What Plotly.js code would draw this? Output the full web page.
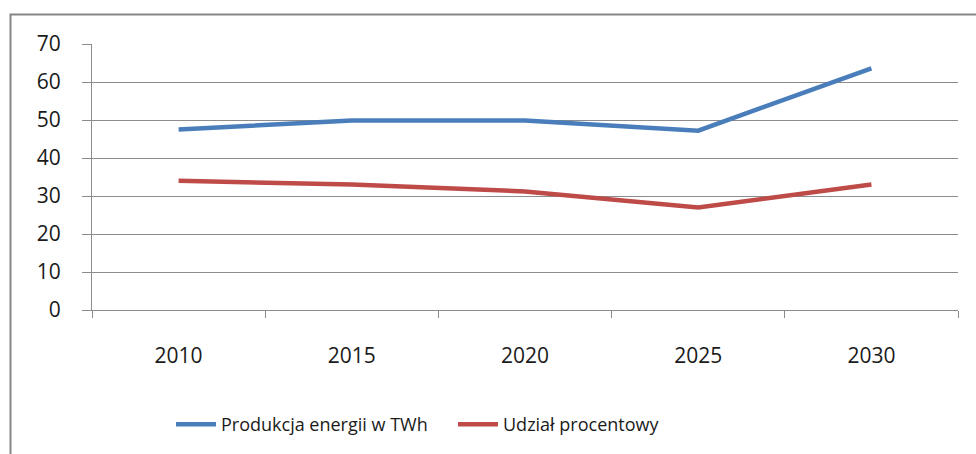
<!DOCTYPE html>
<html>
<head>
<meta charset="utf-8">
<script src="https://cdn.plot.ly/plotly-3.0.1.min.js"></script>
<style>
html,body{margin:0;padding:0;background:#fff;}
#chart{width:976px;height:454px;}
</style>
</head>
<body>
<div id="chart"></div>
<script>
var years = ['2010', '2015', '2020', '2025', '2030'];
var produkcja = [47.5, 49.9, 49.9, 47.2, 63.6];
var udzial = [34.0, 33.0, 31.2, 27.0, 33.0];
var yTicks = [0, 10, 20, 30, 40, 50, 60, 70];
var seriesNames = ['Produkcja energii w TWh', 'Udział procentowy'];

var FONT = '"Open Sans", "Noto Sans", sans-serif';
var GRID = '#8c8c8c';

var traces = [
  {x: years, y: produkcja, name: seriesNames[0], type: 'scatter', mode: 'lines',
   line: {color: '#4A7EBB', width: 4.5}},
  {x: years, y: udzial, name: seriesNames[1], type: 'scatter', mode: 'lines',
   line: {color: '#BE4B48', width: 4.5}}
];

// plot area in px: x 92..958, y 44..311
var L = 92, R = 958, T = 44, B = 311;
function px(x){ return (x - L) / (R - L); }
function py(y){ return (B - y) / (B - T); }

var layout = {
  width: 976, height: 454,
  margin: {l: L, r: 976 - R, t: T, b: 454 - B, pad: 0},
  paper_bgcolor: '#ffffff', plot_bgcolor: '#ffffff',
  font: {family: FONT, size: 18, color: '#000'},
  showlegend: true,
  legend: {orientation: 'h', x: px(171), y: py(406), xanchor: 'left', yanchor: 'top',
           font: {family: FONT, size: 18, color: '#1a1a1a'}, itemwidth: 40,
           entrywidth: 227, entrywidthmode: 'pixels',
           traceorder: 'normal', bgcolor: 'rgba(0,0,0,0)', tracegroupgap: 0},
  xaxis: {type: 'category', range: [-0.5, 4.5], tickson: 'boundaries',
          showgrid: false, showline: true, linecolor: GRID, linewidth: 1,
          ticks: 'outside', ticklen: 7, tickcolor: GRID, tickwidth: 1,
          ticklabelstandoff: 27, tickfont: {family: FONT, size: 21, color: '#1a1a1a'},
          zeroline: false, fixedrange: true},
  yaxis: {range: [0, 70], tickvals: yTicks, ticktext: yTicks.map(String),
          showgrid: true, gridcolor: GRID, gridwidth: 1,
          showline: true, linecolor: GRID, linewidth: 1,
          ticks: 'outside', ticklen: 9, tickcolor: GRID, tickwidth: 1,
          ticklabelstandoff: 17, tickfont: {family: FONT, size: 21, color: '#1a1a1a'},
          zeroline: false, fixedrange: true},
  shapes: [
    {type: 'path', xref: 'paper', yref: 'paper',
     path: 'M ' + px(10.5) + ' ' + py(470) + ' L ' + px(10.5) + ' ' + py(14.5) + ' L ' + px(990) + ' ' + py(14.5),
     line: {color: '#868686', width: 2}, layer: 'above'}
  ]
};

Plotly.newPlot('chart', traces, layout, {displayModeBar: false, staticPlot: true});
</script>
</body>
</html>
